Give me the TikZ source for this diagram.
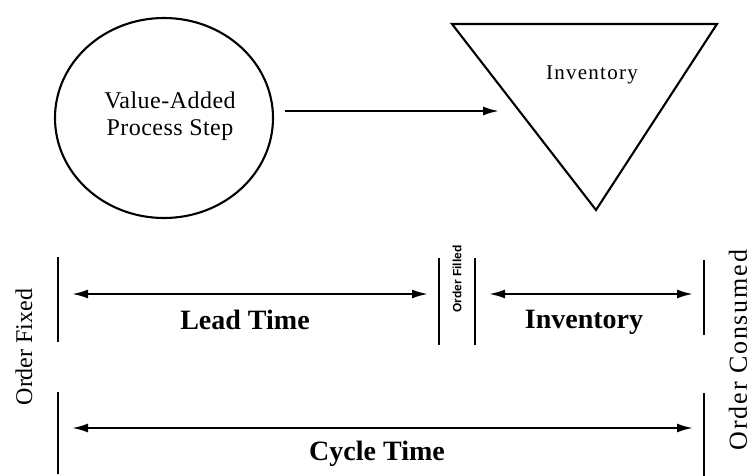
\documentclass[tikz,border=0pt]{standalone}
\usepackage{fontspec}
\setmainfont{Liberation Serif}
\setsansfont{Liberation Sans}
\usetikzlibrary{arrows.meta,shapes.geometric}
\begin{document}
\begin{tikzpicture}[x=1pt,y=-1pt,
  outline/.style={draw=black,line width=2.1pt},
  flow/.style={line width=2.1pt,-{Latex[length=16pt,width=9pt]}},
  span/.style={line width=2.1pt,{Latex[length=16pt,width=9pt]}-{Latex[length=16pt,width=9pt]}},
  bar/.style={fill=black,inner sep=0pt,minimum width=2.4pt},
  boxtext/.style={font=\fontsize{24}{27}\selectfont\addfontfeatures{LetterSpace=2},align=center},
  heading/.style={font=\fontsize{28}{32}\selectfont\bfseries,anchor=base},
  endlabel/.style={font=\fontsize{24}{28}\selectfont,rotate=90},
  smalllabel/.style={font=\sffamily\bfseries\fontsize{12}{14}\selectfont,rotate=90}]
\useasboundingbox (0,0) rectangle (752,476);

% process step and inventory symbols
\node[outline,ellipse,minimum width=218pt,minimum height=200pt,inner sep=0pt] (proc) at (164,118) {};
\node[boxtext] (proctext) at (170,116) {Value-Added\\Process Step};

\coordinate (tl) at (452,24);
\coordinate (tr) at (717,24);
\coordinate (tb) at (596,210);
\draw[outline,line join=miter] (tl) -- (tr) -- (tb) -- cycle;
\node[font=\fontsize{21}{24}\selectfont\addfontfeatures{LetterSpace=6},anchor=base] (invtext) at (592,80) {Inventory};

\coordinate (procOut) at (285,111);
\coordinate (invIn) at (499,111);
\draw[flow] (procOut) -- (invIn);

% event markers
\node[bar,minimum height=85pt] (fixA) at (58,299.5) {};
\node[bar,minimum height=82pt] (fixB) at (58,433) {};
\node[bar,minimum height=87pt] (fillA) at (439,301.5) {};
\node[bar,minimum height=87pt] (fillB) at (475,301.5) {};
\node[bar,minimum height=75pt] (conA) at (704,297.5) {};
\node[bar,minimum height=83pt] (conB) at (704,434.5) {};

% spans between events
\coordinate (leadL) at (72,294);
\coordinate (leadR) at (428,294);
\coordinate (invL) at (489,294);
\coordinate (invR) at (693,294);
\coordinate (cycL) at (72,428);
\coordinate (cycR) at (693,428);
\draw[span] (leadL) -- (leadR);
\draw[span] (invL) -- (invR);
\draw[span] (cycL) -- (cycR);

\node[heading] (leadtext) at (245,329) {Lead Time};
\node[heading] (invspan) at (584,328) {Inventory};
\node[heading] (cyctext) at (377,460) {Cycle Time};

\node[endlabel] (fixtext) at (24,347) {Order Fixed};
\node[endlabel,font=\fontsize{26}{28}\selectfont\addfontfeatures{LetterSpace=7}] (context) at (738,350) {Order Consumed};
\node[smalllabel] (filltext) at (457,279) {Order Filled};
\end{tikzpicture}
\end{document}
